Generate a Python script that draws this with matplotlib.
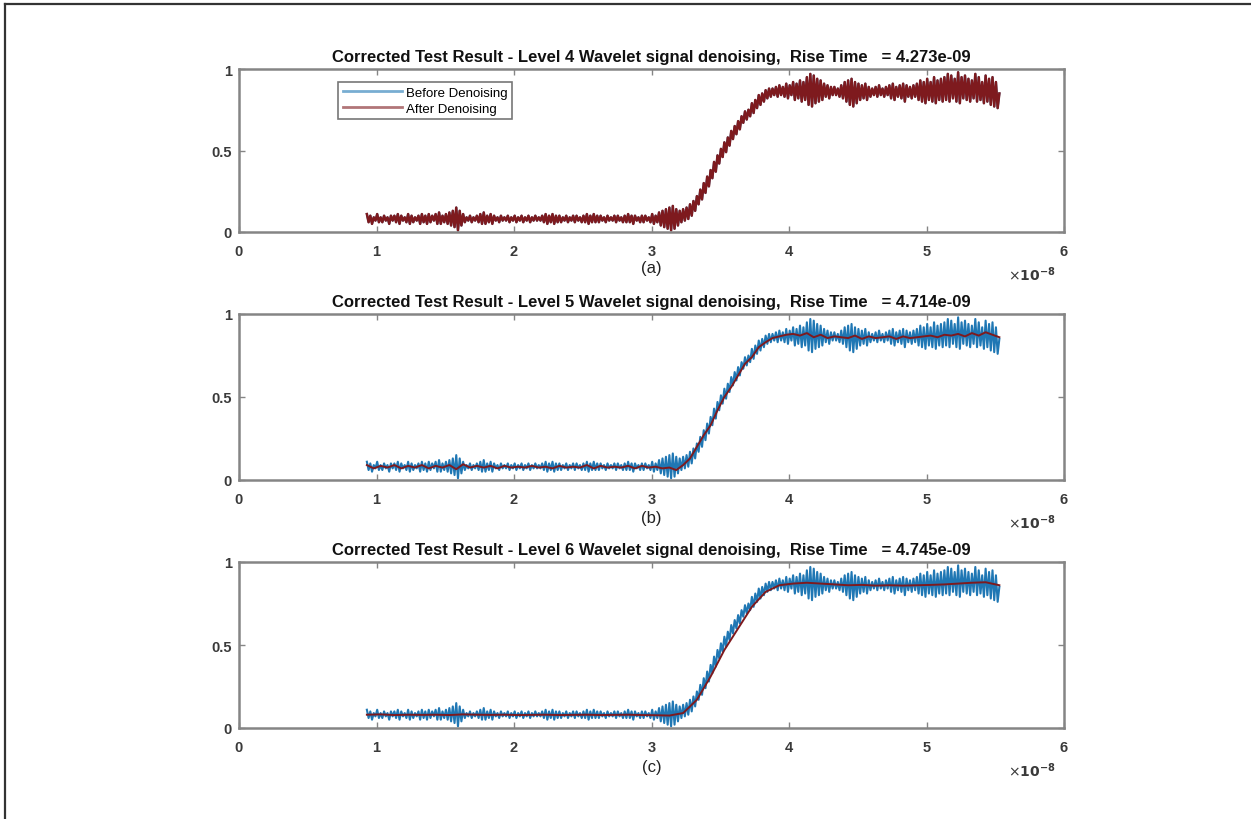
import numpy as np
import matplotlib
matplotlib.use("Agg")
import matplotlib.pyplot as plt
from matplotlib.lines import Line2D

plt.rcParams['font.family'] = ['Liberation Sans', 'DejaVu Sans']

# ---------------- data ----------------
t_start = 0.93e-8
t_end = 5.53e-8

# raw measured signal (Before Denoising), sampled every 0.0125e-8 s
raw_signal = [
    0.11, 0.06, 0.10, 0.05, 0.09, 0.07, 0.11, 0.06, 0.09, 0.06, 0.10, 0.07, 0.09, 0.05, 0.10, 0.07,
    0.10, 0.06, 0.11, 0.05, 0.10, 0.07, 0.09, 0.06, 0.11, 0.05, 0.10, 0.06, 0.09, 0.07, 0.10, 0.05,
    0.11, 0.06, 0.10, 0.05, 0.11, 0.06, 0.10, 0.07, 0.11, 0.05, 0.12, 0.05, 0.10, 0.06, 0.11, 0.05,
    0.12, 0.04, 0.13, 0.03, 0.15, 0.01, 0.13, 0.04, 0.11, 0.06, 0.09, 0.07, 0.10, 0.06, 0.09, 0.07,
    0.10, 0.06, 0.11, 0.05, 0.12, 0.05, 0.10, 0.06, 0.11, 0.05, 0.10, 0.07, 0.09, 0.06, 0.10, 0.07,
    0.09, 0.07, 0.10, 0.06, 0.09, 0.07, 0.10, 0.06, 0.09, 0.07, 0.10, 0.06, 0.09, 0.07, 0.10, 0.06,
    0.09, 0.07, 0.10, 0.07, 0.09, 0.07, 0.10, 0.06, 0.11, 0.05, 0.10, 0.06, 0.11, 0.05, 0.10, 0.06,
    0.10, 0.06, 0.09, 0.07, 0.10, 0.06, 0.09, 0.07, 0.10, 0.06, 0.10, 0.07, 0.09, 0.06, 0.10, 0.06,
    0.11, 0.05, 0.10, 0.06, 0.11, 0.06, 0.10, 0.06, 0.10, 0.07, 0.09, 0.06, 0.10, 0.07, 0.09, 0.07,
    0.10, 0.06, 0.10, 0.07, 0.09, 0.06, 0.10, 0.06, 0.11, 0.06, 0.10, 0.05, 0.10, 0.07, 0.09, 0.06,
    0.10, 0.06, 0.10, 0.07, 0.09, 0.06, 0.11, 0.05, 0.10, 0.06, 0.12, 0.04, 0.13, 0.03, 0.14, 0.02,
    0.15, 0.01, 0.16, 0.02, 0.14, 0.04, 0.13, 0.06, 0.14, 0.07, 0.15, 0.08, 0.17, 0.10, 0.19, 0.13,
    0.22, 0.17, 0.26, 0.20, 0.30, 0.24, 0.34, 0.28, 0.38, 0.33, 0.43, 0.37, 0.47, 0.42, 0.51, 0.46,
    0.55, 0.49, 0.58, 0.53, 0.62, 0.57, 0.65, 0.60, 0.68, 0.63, 0.71, 0.67, 0.74, 0.69, 0.75, 0.71,
    0.79, 0.73, 0.81, 0.76, 0.84, 0.78, 0.85, 0.80, 0.87, 0.82, 0.88, 0.83, 0.88, 0.84, 0.89, 0.83,
    0.90, 0.84, 0.89, 0.83, 0.91, 0.82, 0.90, 0.84, 0.92, 0.81, 0.91, 0.82, 0.93, 0.80, 0.92, 0.81,
    0.95, 0.78, 0.97, 0.77, 0.96, 0.79, 0.94, 0.80, 0.93, 0.81, 0.91, 0.83, 0.90, 0.82, 0.89, 0.84,
    0.89, 0.84, 0.88, 0.83, 0.90, 0.82, 0.92, 0.80, 0.93, 0.78, 0.94, 0.77, 0.92, 0.79, 0.91, 0.81,
    0.90, 0.82, 0.91, 0.81, 0.89, 0.83, 0.88, 0.84, 0.89, 0.83, 0.90, 0.84, 0.88, 0.83, 0.89, 0.84,
    0.90, 0.82, 0.91, 0.81, 0.89, 0.83, 0.90, 0.82, 0.91, 0.80, 0.90, 0.83, 0.89, 0.82, 0.90, 0.83,
    0.91, 0.81, 0.93, 0.80, 0.92, 0.79, 0.94, 0.81, 0.92, 0.80, 0.95, 0.79, 0.93, 0.81, 0.94, 0.80,
    0.95, 0.81, 0.97, 0.80, 0.96, 0.82, 0.94, 0.80, 0.98, 0.79, 0.95, 0.82, 0.96, 0.81, 0.94, 0.80,
    0.93, 0.82, 0.97, 0.80, 0.95, 0.81, 0.92, 0.79, 0.96, 0.80, 0.94, 0.78, 0.95, 0.77, 0.92, 0.76,
    0.85,
]

# level 4 denoised output is visually identical to the raw signal
level4_denoised = list(raw_signal)

# level 5 denoised output, sampled every 0.05e-8 s
level5_denoised = [
    0.090, 0.070, 0.085, 0.075, 0.090, 0.070, 0.085, 0.075, 0.090, 0.070,
    0.085, 0.075, 0.090, 0.065, 0.095, 0.075, 0.085, 0.075, 0.085, 0.070,
    0.085, 0.075, 0.080, 0.075, 0.085, 0.075, 0.080, 0.070, 0.085, 0.075,
    0.080, 0.075, 0.090, 0.070, 0.085, 0.075, 0.080, 0.075, 0.085, 0.070,
    0.085, 0.075, 0.080, 0.070, 0.075, 0.060, 0.090, 0.130, 0.200, 0.270,
    0.330, 0.420, 0.500, 0.560, 0.630, 0.700, 0.740, 0.800, 0.830, 0.855,
    0.865, 0.875, 0.880, 0.870, 0.885, 0.860, 0.875, 0.855, 0.865, 0.860,
    0.855, 0.870, 0.850, 0.865, 0.855, 0.860, 0.865, 0.850, 0.865, 0.855,
    0.860, 0.865, 0.870, 0.860, 0.875, 0.870, 0.880, 0.865, 0.885, 0.870,
    0.890, 0.875, 0.860,
]

# level 6 denoised output, sampled every 0.1e-8 s
level6_denoised = [
    0.080, 0.082, 0.078, 0.080, 0.079, 0.080, 0.078, 0.082, 0.080, 0.079,
    0.080, 0.078, 0.079, 0.080, 0.078, 0.079, 0.080, 0.078, 0.079, 0.080,
    0.078, 0.077, 0.075, 0.090, 0.170, 0.310, 0.470, 0.600, 0.730, 0.820,
    0.860, 0.870, 0.875, 0.870, 0.865, 0.860, 0.862, 0.858, 0.860, 0.858,
    0.860, 0.862, 0.865, 0.870, 0.875, 0.878, 0.860,
]

levels = [4, 5, 6]
rise_times = ["4.273e-09", "4.714e-09", "4.745e-09"]
panel_labels = ["(a)", "(b)", "(c)"]
denoised_series = [level4_denoised, level5_denoised, level6_denoised]
x_ticks = [0, 1, 2, 3, 4, 5, 6]
y_ticks = [0, 0.5, 1]
y_tick_labels = ["0", "0.5", "1"]

# ---------------- figure ----------------
W, H = 1251, 820
fig = plt.figure(figsize=(W / 100, H / 100), dpi=100)
fig.patch.set_facecolor('white')

# outer frame lines (left and top)
fig.add_artist(Line2D([5 / W, 5 / W], [0, 1 - 5 / H], transform=fig.transFigure,
                      color='#333333', lw=1.6))
fig.add_artist(Line2D([5 / W, 1], [1 - 5 / H, 1 - 5 / H], transform=fig.transFigure,
                      color='#333333', lw=1.6))

BLUE = '#1f77b4'
RED = '#7E1A1E'
SPINE = '#858585'
TXT = '#3a3a3a'

axes_px = [(70, 233), (315, 481), (563, 729)]
label_y_px = [268, 519, 768]
left_px, right_px = 239, 1064

scale = 1e-8
t_raw = np.linspace(t_start, t_end, len(raw_signal)) / scale

for i, (top, bot) in enumerate(axes_px):
    ax = fig.add_axes([left_px / W, 1 - bot / H, (right_px - left_px) / W, (bot - top) / H])
    den = denoised_series[i]
    t_den = np.linspace(t_start, t_end, len(den)) / scale
    ax.plot(t_raw, raw_signal, color=BLUE, lw=1.5, label='Before Denoising')
    ax.plot(t_den, den, color=RED, lw=1.8 if i == 0 else 1.4, label='After Denoising')

    ax.set_xlim(0, 6)
    ax.set_ylim(0, 1)
    ax.set_xticks(x_ticks)
    ax.set_yticks(y_ticks)
    ax.set_yticklabels(y_tick_labels)
    ax.tick_params(direction='in', top=True, right=True, length=4, width=1,
                   colors=SPINE, labelcolor=TXT, labelsize=10.5)
    ax.tick_params(axis='x', pad=9)
    ax.tick_params(axis='y', pad=5)
    for lab in ax.get_xticklabels() + ax.get_yticklabels():
        lab.set_fontweight('bold')
    for sp in ax.spines.values():
        sp.set_color(SPINE)
        sp.set_linewidth(1.8)

    ax.set_title(f"Corrected Test Result - Level {levels[i]} Wavelet signal denoising,  "
                 f"Rise Time   = {rise_times[i]}",
                 fontsize=12, fontweight='bold', color='#111111', pad=6)

    fig.text((left_px + right_px) / 2 / W, 1 - label_y_px[i] / H, panel_labels[i],
             ha='center', va='center', fontsize=12, color='#222222')
    fig.text(1055 / W, 1 - (bot + 42) / H, r"$\times\mathbf{10^{-8}}$", ha='right',
             va='center', fontsize=10, color=TXT)

    if i == 0:
        leg = ax.legend(loc='upper left', bbox_to_anchor=(0.112, 0.96), fontsize=9.5,
                        frameon=True, fancybox=False, handlelength=4.5, borderpad=0.35,
                        labelspacing=0.25, handletextpad=0.3)
        leg.get_frame().set_edgecolor('#555555')
        leg.get_frame().set_linewidth(1.2)
        for line in leg.get_lines():
            line.set_linewidth(2.0)
            line.set_alpha(0.6)

fig.savefig("out.png", dpi=100)
